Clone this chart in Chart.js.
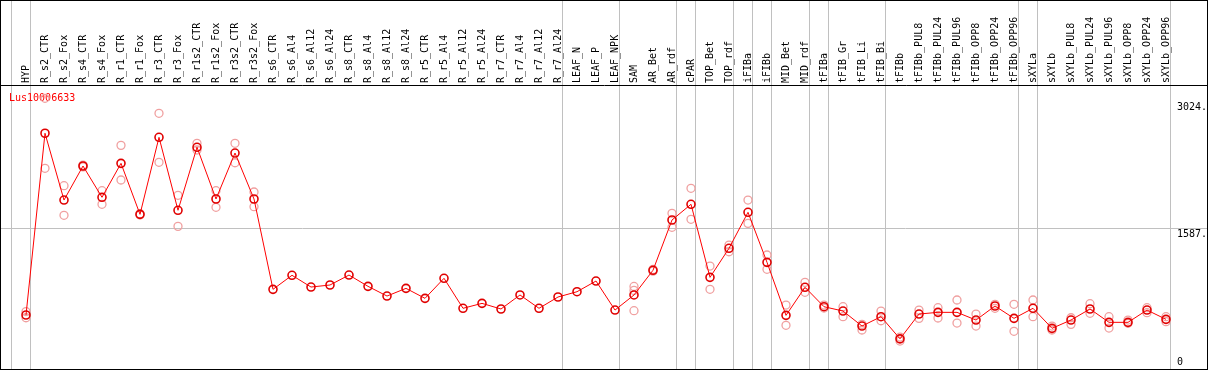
<!DOCTYPE html>
<html>
<head>
<meta charset="utf-8">
<script src="https://cdn.jsdelivr.net/npm/chart.js@4.4.0/dist/chart.umd.min.js"></script>
<style>
  html, body { margin: 0; padding: 0; background: #fff; }
  #frame { position: absolute; left: 0; top: 0; width: 1206px; height: 368px; border: 1px solid #000; }
  canvas { display: block; }
</style>
</head>
<body>
<div id="frame"><canvas id="chart" width="1206" height="368"></canvas></div>
<script>
const geneId = 'Lus10006633';

const categories = ['HYP', 'R_s2_CTR', 'R_s2_Fox', 'R_s4_CTR', 'R_s4_Fox', 'R_r1_CTR', 'R_r1_Fox', 'R_r3_CTR', 'R_r3_Fox',
    'R_r1s2_CTR', 'R_r1s2_Fox', 'R_r3s2_CTR', 'R_r3s2_Fox', 'R_s6_CTR', 'R_s6_Al4', 'R_s6_Al12', 'R_s6_Al24',
    'R_s8_CTR', 'R_s8_Al4', 'R_s8_Al12', 'R_s8_Al24', 'R_r5_CTR', 'R_r5_Al4', 'R_r5_Al12', 'R_r5_Al24',
    'R_r7_CTR', 'R_r7_Al4', 'R_r7_Al12', 'R_r7_Al24', 'LEAF_N', 'LEAF_P', 'LEAF_NPK', 'SAM', 'AR_Bet', 'AR_rdf',
    'cPAR', 'TOP_Bet', 'TOP_rdf', 'iFIBa', 'iFIBb', 'MID_Bet', 'MID_rdf', 'tFIBa', 'tFIB_Gr', 'tFIB_Li', 'tFIB_Bi',
    'tFIBb', 'tFIBb_PUL8', 'tFIBb_PUL24', 'tFIBb_PUL96', 'tFIBb_OPP8', 'tFIBb_OPP24', 'tFIBb_OPP96',
    'sXYLa', 'sXYLb', 'sXYLb_PUL8', 'sXYLb_PUL24', 'sXYLb_PUL96', 'sXYLb_OPP8', 'sXYLb_OPP24', 'sXYLb_OPP96'];

// mean expression per sample
const meanValues = [601, 2661, 1904, 2290, 1935, 2320, 1742, 2615, 1788, 2502, 1916, 2437, 1916,
    892, 1051, 918, 941, 1054, 926, 816, 903, 790, 1017, 677, 733, 669, 828, 677, 805,
    865, 986, 657,
    828, 1108, 1678, 1856, 1028, 1357, 1765, 1198, 597, 915,
    695, 646, 476, 582, 331, 612, 631, 631, 544, 703, 563,
    677, 450, 544, 669, 518, 518, 657, 552];

// single replicates (null = not shown)
const rep1 = [640, 3057, 2067, 2300, 2010, 2524, 1750, 2887, 1958, 2547, 2010, 2547, 1995,
    null, null, null, null, null, null, null, null, null, null, null, null, null, null, null, null,
    null, null, null,
    925, 1118, 1754, 2037, 1156, 1394, 1904, 1281, 714, 971,
    714, 695, 495, 646, 351, 657, 684, 771, 612, 722, 722,
    771, 476, 570, 729, 582, 544, 684, 582];
const rep2 = [570, 2264, 1731, 2280, 1856, 2131, 1735, 2332, 1606, 2471, 1822, 2327, 1829,
    null, null, null, null, null, null, null, null, null, null, null, null, null, null, null, null,
    null, null, null,
    650, 1098, 1595, 1686, 892, 1318, 1640, 1119, 484, 858,
    680, 582, 431, 536, 306, 563, 567, 510, 476, 677, 416,
    582, 431, 495, 620, 453, 507, 627, 525];
const rep3 = categories.map(c => c === 'SAM' ? 880 : null);

// separators drawn after these sample indexes
const groupEnds = [-1, 0, 28, 31, 34, 35, 37, 38, 39, 41, 42, 45, 52, 53, 60];
const yTicks = [0, 1587, 3024];

const xMin = -25 / 19;
const xMax = 1181 / 19;
const monoFont = { family: 'DejaVu Sans Mono', size: 10 };

function toPoints(arr) {
    return arr.map((v, i) => ({ x: i, y: v }));
}

function noPad(s) {
    s.paddingTop = 0;
    s.paddingBottom = 0;
    s.paddingLeft = 0;
    s.paddingRight = 0;
}

const geneLabel = {
    id: 'geneLabel',
    beforeDatasetsDraw(chart) {
        const { ctx, chartArea } = chart;
        ctx.save();
        ctx.font = '10px "DejaVu Sans Mono"';
        ctx.fillStyle = '#ff0000';
        ctx.textBaseline = 'top';
        ctx.fillText(geneId, chartArea.left + 8, chartArea.top + 8);
        ctx.restore();
    }
};

const repStyle = {
    type: 'scatter',
    showLine: false,
    pointStyle: 'circle',
    pointRadius: 4,
    pointBorderWidth: 1.3,
    pointBorderColor: '#f0a0a0',
    pointBackgroundColor: 'rgba(0,0,0,0)',
    order: 1
};

new Chart(document.getElementById('chart'), {
    type: 'line',
    data: {
        datasets: [
            {
                label: geneId,
                data: toPoints(meanValues),
                borderColor: '#ff0000',
                borderWidth: 1,
                pointStyle: 'circle',
                pointRadius: 4,
                pointBorderWidth: 1.6,
                pointBorderColor: '#e00000',
                pointBackgroundColor: 'rgba(0,0,0,0)',
                tension: 0,
                order: 0
            },
            Object.assign({ label: 'rep1', data: toPoints(rep1) }, repStyle),
            Object.assign({ label: 'rep2', data: toPoints(rep2) }, repStyle),
            Object.assign({ label: 'rep3', data: toPoints(rep3) }, repStyle)
        ]
    },
    options: {
        responsive: false,
        animation: false,
        layout: { padding: 0, autoPadding: false },
        plugins: {
            legend: { display: false },
            tooltip: { enabled: false }
        },
        scales: {
            x: {
                type: 'linear',
                position: 'top',
                weight: 1,
                min: xMin,
                max: xMax,
                afterBuildTicks: s => { s.ticks = categories.map((c, i) => ({ value: i })); },
                afterFit: s => { s.height = 84; noPad(s); },
                ticks: {
                    autoSkip: false,
                    minRotation: 90,
                    maxRotation: 90,
                    padding: 2,
                    labelOffset: 12,
                    color: '#000',
                    font: monoFont,
                    callback: v => categories[v]
                },
                grid: { display: false, drawTicks: false },
                border: { display: false }
            },
            sep: {
                type: 'linear',
                position: 'top',
                weight: 0,
                min: xMin,
                max: xMax,
                afterBuildTicks: s => { s.ticks = groupEnds.map(i => ({ value: i + 0.24 })); },
                afterFit: s => { s.height = 0; noPad(s); },
                ticks: { display: false, autoSkip: false },
                grid: { color: '#c0c0c0', tickColor: '#c0c0c0', drawTicks: true, tickLength: 84, lineWidth: 1 },
                border: { display: true, color: '#000', width: 1 }
            },
            y: {
                type: 'linear',
                position: 'right',
                min: -11,
                max: 3208,
                afterBuildTicks: s => { s.ticks = yTicks.map(v => ({ value: v })); },
                afterFit: s => { s.width = 0; noPad(s); },
                ticks: {
                    mirror: true,
                    crossAlign: 'far',
                    padding: 0,
                    color: '#000',
                    font: monoFont,
                    callback: v => v === 0 ? ['0', ''] : ['', v + '.']
                },
                grid: {
                    color: c => c.tick && c.tick.value === 1587 ? '#c0c0c0' : 'rgba(0,0,0,0)',
                    drawTicks: false
                },
                border: { display: false }
            }
        }
    },
    plugins: [geneLabel]
});
</script>
</body>
</html>
